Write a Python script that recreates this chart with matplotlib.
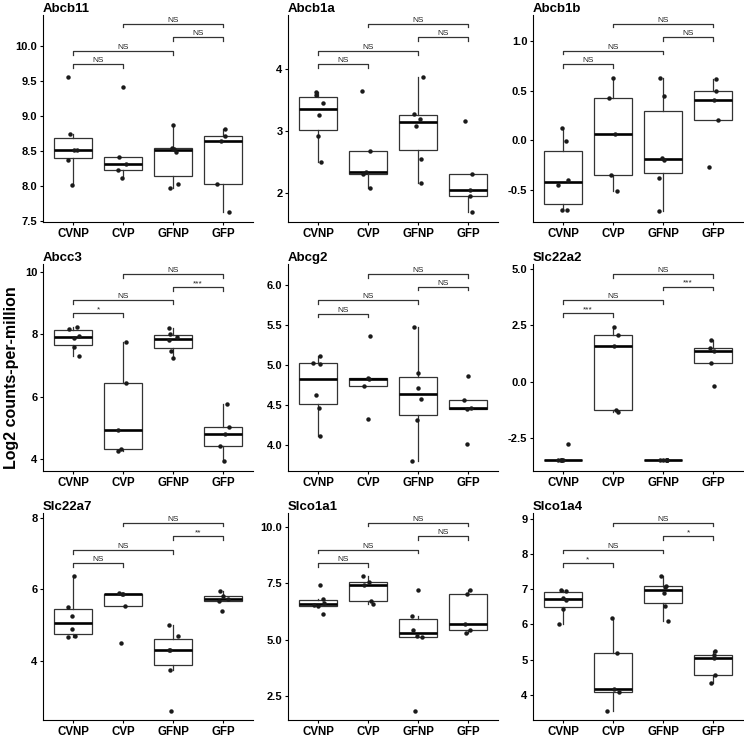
import numpy as np
import matplotlib.pyplot as plt
from matplotlib.ticker import FormatStrFormatter

plt.rcParams['font.family'] = ['Liberation Sans', 'DejaVu Sans']

groups = ["CVNP", "CVP", "GFNP", "GFP"]
genes = ["Abcb11", "Abcb1a", "Abcb1b", "Abcc3", "Abcg2",
         "Slc22a2", "Slc22a7", "Slco1a1", "Slco1a4"]

# log2 CPM per group: CVNP, CVP, GFNP, GFP
abcb11 = [[9.56, 8.74, 8.51, 8.51, 8.37, 8.02],
          [9.41, 8.415, 8.31, 8.225, 8.12],
          [8.87, 8.55, 8.53, 8.49, 8.03, 7.97],
          [8.82, 8.72, 8.645, 8.03, 7.63]]
abcb1a = [[3.62, 3.57, 3.45, 3.26, 2.92, 2.49],
          [3.64, 2.68, 2.33, 2.30, 2.07],
          [3.87, 3.27, 3.195, 3.08, 2.55, 2.16],
          [3.16, 2.30, 2.05, 1.94, 1.69]]
abcb1b = [[0.12, -0.01, -0.40, -0.45, -0.71, -0.71],
          [0.63, 0.42, 0.06, -0.35, -0.51],
          [0.63, 0.45, -0.18, -0.20, -0.38, -0.72],
          [0.62, 0.50, 0.40, 0.20, -0.27]]
abcc3 = [[8.22, 8.18, 7.96, 7.88, 7.59, 7.29],
         [7.76, 6.43, 4.92, 4.31, 4.26],
         [8.20, 8.01, 7.90, 7.82, 7.48, 7.25],
         [5.77, 5.02, 4.81, 4.42, 3.93]]
abcg2 = [[5.11, 5.03, 5.02, 4.63, 4.47, 4.12],
         [5.37, 4.84, 4.83, 4.74, 4.33],
         [5.48, 4.90, 4.71, 4.58, 4.31, 3.80],
         [4.86, 4.56, 4.47, 4.45, 4.01]]
slc22a2 = [[-2.76, -3.48, -3.48, -3.48, -3.48, -3.48],
           [2.40, 2.08, 1.56, -1.24, -1.34],
           [-3.48, -3.48, -3.48, -3.48, -3.48, -3.48],
           [1.85, 1.50, 1.38, 0.83, -0.20]]
slc22a7 = [[6.37, 5.50, 5.24, 4.89, 4.69, 4.65],
           [5.89, 5.87, 5.86, 5.52, 4.48],
           [5.00, 4.70, 4.30, 4.30, 3.74, 2.60],
           [5.94, 5.82, 5.73, 5.66, 5.39]]
slco1a1 = [[7.45, 6.79, 6.62, 6.53, 6.51, 6.14],
           [7.83, 7.57, 7.45, 6.72, 6.57],
           [7.20, 6.07, 5.41, 5.16, 5.10, 1.85],
           [7.21, 7.05, 5.69, 5.45, 5.28]]
slco1a4 = [[6.99, 6.96, 6.75, 6.70, 6.44, 6.02],
           [6.19, 5.19, 4.18, 4.08, 3.55],
           [7.37, 7.09, 7.05, 6.89, 6.51, 6.10],
           [5.26, 5.12, 5.05, 4.56, 4.33]]
values = [abcb11, abcb1a, abcb1b, abcc3, abcg2, slc22a2, slc22a7, slco1a1, slco1a4]

# comparisons (group index pairs) and their labels / bracket heights
pairs = [(1, 2), (1, 3), (3, 4), (2, 4)]
sig_labels = [["NS", "NS", "NS", "NS"],
              ["NS", "NS", "NS", "NS"],
              ["NS", "NS", "NS", "NS"],
              ["*", "NS", "***", "NS"],
              ["NS", "NS", "NS", "NS"],
              ["***", "NS", "***", "NS"],
              ["NS", "NS", "**", "NS"],
              ["NS", "NS", "NS", "NS"],
              ["*", "NS", "*", "NS"]]
sig_heights = [[9.74, 9.93, 10.13, 10.32],
               [4.075, 4.29, 4.51, 4.73],
               [0.767, 0.903, 1.04, 1.177],
               [8.68, 9.09, 9.52, 9.94],
               [5.645, 5.81, 5.98, 6.14],
               [3.02, 3.60, 4.20, 4.77],
               [6.73, 7.10, 7.48, 7.86],
               [8.40, 9.00, 9.60, 10.20],
               [7.74, 8.12, 8.50, 8.89]]

y_ticks = [[7.5, 8.0, 8.5, 9.0, 9.5, 10.0],
           [2, 3, 4],
           [-0.5, 0.0, 0.5, 1.0],
           [4, 6, 8, 10],
           [4.0, 4.5, 5.0, 5.5, 6.0],
           [-2.5, 0.0, 2.5, 5.0],
           [4, 6, 8],
           [2.5, 5.0, 7.5, 10.0],
           [4, 5, 6, 7, 8, 9]]
y_fmt = ['%.1f', '%d', '%.1f', '%d', '%.1f', '%.1f', '%d', '%.1f', '%d']
y_lims = [(7.486, 10.443), (1.525, 4.869), (-0.827, 1.263),
          (3.619, 10.254), (3.678, 6.264), (-3.945, 5.204),
          (2.337, 8.13), (1.429, 10.63), (3.289, 9.16)]

rng = np.random.default_rng(3)
line_col = '#333333'

fig = plt.figure(figsize=(7.44, 7.40), dpi=100)
for i, gene in enumerate(genes):
    r, c = divmod(i, 3)
    ax = fig.add_axes([(43 + 245 * c) / 744, 1 - (222 + 249 * r) / 740, 210 / 744, 207 / 740])
    data = values[i]
    ax.boxplot(data, positions=[1, 2, 3, 4], widths=0.75, showfliers=False,
               showcaps=False, whis=1.5, patch_artist=True,
               boxprops=dict(facecolor='white', edgecolor=line_col, linewidth=0.9),
               whiskerprops=dict(color=line_col, linewidth=0.9),
               medianprops=dict(color='black', linewidth=1.9))
    for g, vals in enumerate(data):
        xs = g + 1 + rng.uniform(-0.12, 0.12, len(vals))
        ax.plot(xs, vals, 'o', color='#1a1a1a', ms=3.2, mew=0, zorder=5)

    lo, hi = y_lims[i]
    ax.set_xlim(0.4, 4.6)
    ax.set_ylim(lo, hi)
    tip = 0.018 * (hi - lo)
    for (a, b), h, lab in zip(pairs, sig_heights[i], sig_labels[i]):
        ax.plot([a, a, b, b], [h - tip, h, h, h - tip], color=line_col, lw=0.9, clip_on=False)
        ax.text((a + b) / 2, h, lab, ha='center', va='bottom', fontsize=6, color='#222222')

    ax.set_xticks([1, 2, 3, 4])
    ax.set_xticklabels(groups, fontweight='bold', fontsize=8.3)
    ax.set_yticks(y_ticks[i])
    ax.yaxis.set_major_formatter(FormatStrFormatter(y_fmt[i]))
    for t in ax.get_yticklabels():
        t.set_fontweight('bold')
        t.set_fontsize(8)
    ax.tick_params(direction='out', length=2.5, width=0.8, colors='black', pad=1.5)
    for s in ['top', 'right']:
        ax.spines[s].set_visible(False)
    for s in ['left', 'bottom']:
        ax.spines[s].set_linewidth(0.8)
    ax.set_title(gene, loc='left', fontweight='bold', fontsize=9.5, pad=2.5)

fig.text(0.016, 0.49, 'Log2 counts-per-million', rotation=90, ha='center', va='center',
         fontsize=11.5, fontweight='bold')

fig.savefig('out.png', dpi=100)
